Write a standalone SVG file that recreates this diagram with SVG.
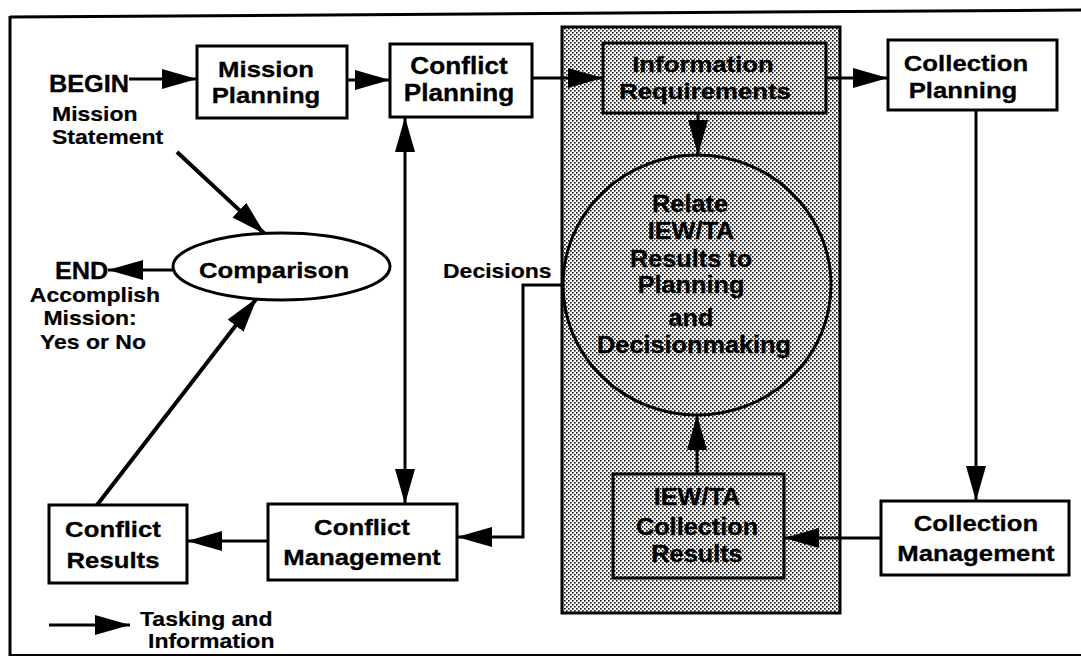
<svg xmlns="http://www.w3.org/2000/svg" width="1081" height="660" viewBox="0 0 1081 660">
<style>
.t{font-family:"Liberation Sans",Arial,Helvetica,sans-serif;font-weight:bold;font-size:23px;fill:#000;stroke:#000;stroke-width:0.3}
.s{font-family:"Liberation Sans",Arial,Helvetica,sans-serif;font-weight:bold;font-size:20px;fill:#000;stroke:#000;stroke-width:0.2}
.box{fill:#fff;stroke:#000;stroke-width:3}
.sbox{fill:url(#dots);stroke:#000;stroke-width:3}
.ln{fill:none;stroke:#000;stroke-width:3}
.lt{fill:none;stroke:#000;stroke-width:4}
.ar{marker-end:url(#ah)}
</style>
<defs>
<pattern id="dots" width="4" height="4" patternUnits="userSpaceOnUse">
<rect width="4" height="4" fill="#fff"/>
<rect x="0" y="0" width="1.6" height="1.6" fill="#111"/>
<rect x="2" y="2" width="1.6" height="1.6" fill="#111"/>
</pattern>
<marker id="ah" markerUnits="userSpaceOnUse" markerWidth="36" markerHeight="20" refX="35" refY="10" orient="auto-start-reverse">
<path d="M0,0 L35,10 L0,20 Z" fill="#000"/>
</marker>
</defs>
<rect width="1081" height="660" fill="#fff"/>
<g id="frame">
<line x1="10" y1="17" x2="1081" y2="10" stroke="#000" stroke-width="3"/>
<line x1="10" y1="16" x2="10" y2="656" stroke="#000" stroke-width="3"/>
<line x1="9" y1="655" x2="1081" y2="655" stroke="#000" stroke-width="2"/>
</g>
<g id="shaded-area">
<rect x="562" y="27" width="278" height="586" class="sbox"/>
</g>
<g id="connectors">
<line x1="129" y1="79" x2="197" y2="79" class="ln ar"/>
<line x1="347" y1="80" x2="390" y2="80" class="ln ar"/>
<line x1="532" y1="78" x2="603" y2="78" class="ln ar"/>
<line x1="826" y1="78" x2="888" y2="78" class="ln ar"/>
<line x1="698" y1="113" x2="698" y2="155" class="ln ar"/>
<line x1="976" y1="110" x2="976" y2="501" class="ln ar"/>
<line x1="881" y1="538" x2="784" y2="538" class="ln ar"/>
<line x1="697" y1="474" x2="697" y2="415" class="ln ar"/>
<line x1="405" y1="504" x2="405" y2="117" class="ln ar" marker-start="url(#ah)"/>
<polyline points="563,285 523,285 523,537 457,537" class="ln ar"/>
<line x1="268" y1="541" x2="187" y2="541" class="ln ar"/>
<line x1="174" y1="270" x2="108" y2="270" class="ln ar"/>
<line x1="177" y1="152" x2="265" y2="234" class="lt ar"/>
<line x1="97" y1="505" x2="257" y2="298" class="lt ar"/>
<line x1="49" y1="625" x2="130" y2="625" class="ln ar"/>
</g>
<g id="begin">
<text class="t" transform="translate(49,92) scale(1.1,1)">BEGIN</text>
<text class="s" transform="translate(52,121) scale(1.15,1)">Mission</text>
<text class="s" transform="translate(52,144) scale(1.15,1)">Statement</text>
</g>
<g id="mission-planning">
<rect x="197" y="46" width="150" height="72" class="box"/>
<text class="t" text-anchor="middle" transform="translate(266,77) scale(1.12,1)">Mission</text>
<text class="t" text-anchor="middle" transform="translate(266,103) scale(1.12,1)">Planning</text>
</g>
<g id="conflict-planning">
<rect x="390" y="44" width="142" height="73" class="box"/>
<text class="t" text-anchor="middle" transform="translate(459,74) scale(1.14,1)">Conflict</text>
<text class="t" text-anchor="middle" transform="translate(459,101) scale(1.14,1)">Planning</text>
</g>
<g id="information-requirements">
<rect x="603" y="43" width="223" height="70" class="sbox"/>
<text class="t" text-anchor="middle" transform="translate(703,72) scale(1.12,1)">Information</text>
<text class="t" text-anchor="middle" transform="translate(705,99) scale(1.12,1)">Requirements</text>
</g>
<g id="collection-planning">
<rect x="888" y="40" width="169" height="70" class="box"/>
<text class="t" text-anchor="middle" transform="translate(966,71) scale(1.12,1)">Collection</text>
<text class="t" text-anchor="middle" transform="translate(963,98) scale(1.12,1)">Planning</text>
</g>
<g id="relate">
<ellipse cx="697" cy="285" rx="134" ry="130" class="sbox"/>
<text class="t" text-anchor="middle" transform="translate(690,212) scale(1.1,1)">Relate</text>
<text class="t" text-anchor="middle" transform="translate(691,239) scale(1.1,1)">IEW/TA</text>
<text class="t" text-anchor="middle" transform="translate(691,267) scale(1.1,1)">Results to</text>
<text class="t" text-anchor="middle" transform="translate(691,293) scale(1.1,1)">Planning</text>
<text class="t" text-anchor="middle" transform="translate(691,326) scale(1.1,1)">and</text>
<text class="t" text-anchor="middle" transform="translate(694,353) scale(1.1,1)">Decisionmaking</text>
</g>
<g id="decisions">
<text class="s" transform="translate(443,278) scale(1.15,1)">Decisions</text>
</g>
<g id="comparison">
<ellipse cx="281.5" cy="266.5" rx="108.5" ry="33.5" fill="#fff" stroke="#000" stroke-width="3"/>
<text class="t" text-anchor="middle" transform="translate(274,278) scale(1.12,1)">Comparison</text>
</g>
<g id="end">
<text class="t" transform="translate(55,279) scale(1.1,1)">END</text>
<text class="s" text-anchor="middle" transform="translate(95,302) scale(1.15,1)">Accomplish</text>
<text class="s" text-anchor="middle" transform="translate(90,325) scale(1.15,1)">Mission:</text>
<text class="s" text-anchor="middle" transform="translate(93,349) scale(1.15,1)">Yes or No</text>
</g>
<g id="conflict-results">
<rect x="49" y="505" width="138" height="78" class="box"/>
<text class="t" text-anchor="middle" transform="translate(113,537) scale(1.12,1)">Conflict</text>
<text class="t" text-anchor="middle" transform="translate(113,568) scale(1.12,1)">Results</text>
</g>
<g id="conflict-management">
<rect x="268" y="504" width="189" height="76" class="box"/>
<text class="t" text-anchor="middle" transform="translate(362,535) scale(1.12,1)">Conflict</text>
<text class="t" text-anchor="middle" transform="translate(362,565) scale(1.12,1)">Management</text>
</g>
<g id="iewta-collection-results">
<rect x="613" y="474" width="171" height="104" class="sbox"/>
<text class="t" text-anchor="middle" transform="translate(697,505) scale(1.1,1)">IEW/TA</text>
<text class="t" text-anchor="middle" transform="translate(697,535) scale(1.1,1)">Collection</text>
<text class="t" text-anchor="middle" transform="translate(697,562) scale(1.1,1)">Results</text>
</g>
<g id="collection-management">
<rect x="881" y="501" width="188" height="74" class="box"/>
<text class="t" text-anchor="middle" transform="translate(976,531) scale(1.12,1)">Collection</text>
<text class="t" text-anchor="middle" transform="translate(976,561) scale(1.12,1)">Management</text>
</g>
<g id="legend">
<text class="s" transform="translate(140,626) scale(1.15,1)">Tasking and</text>
<text class="s" transform="translate(148,648) scale(1.15,1)">Information</text>
</g>
</svg>
